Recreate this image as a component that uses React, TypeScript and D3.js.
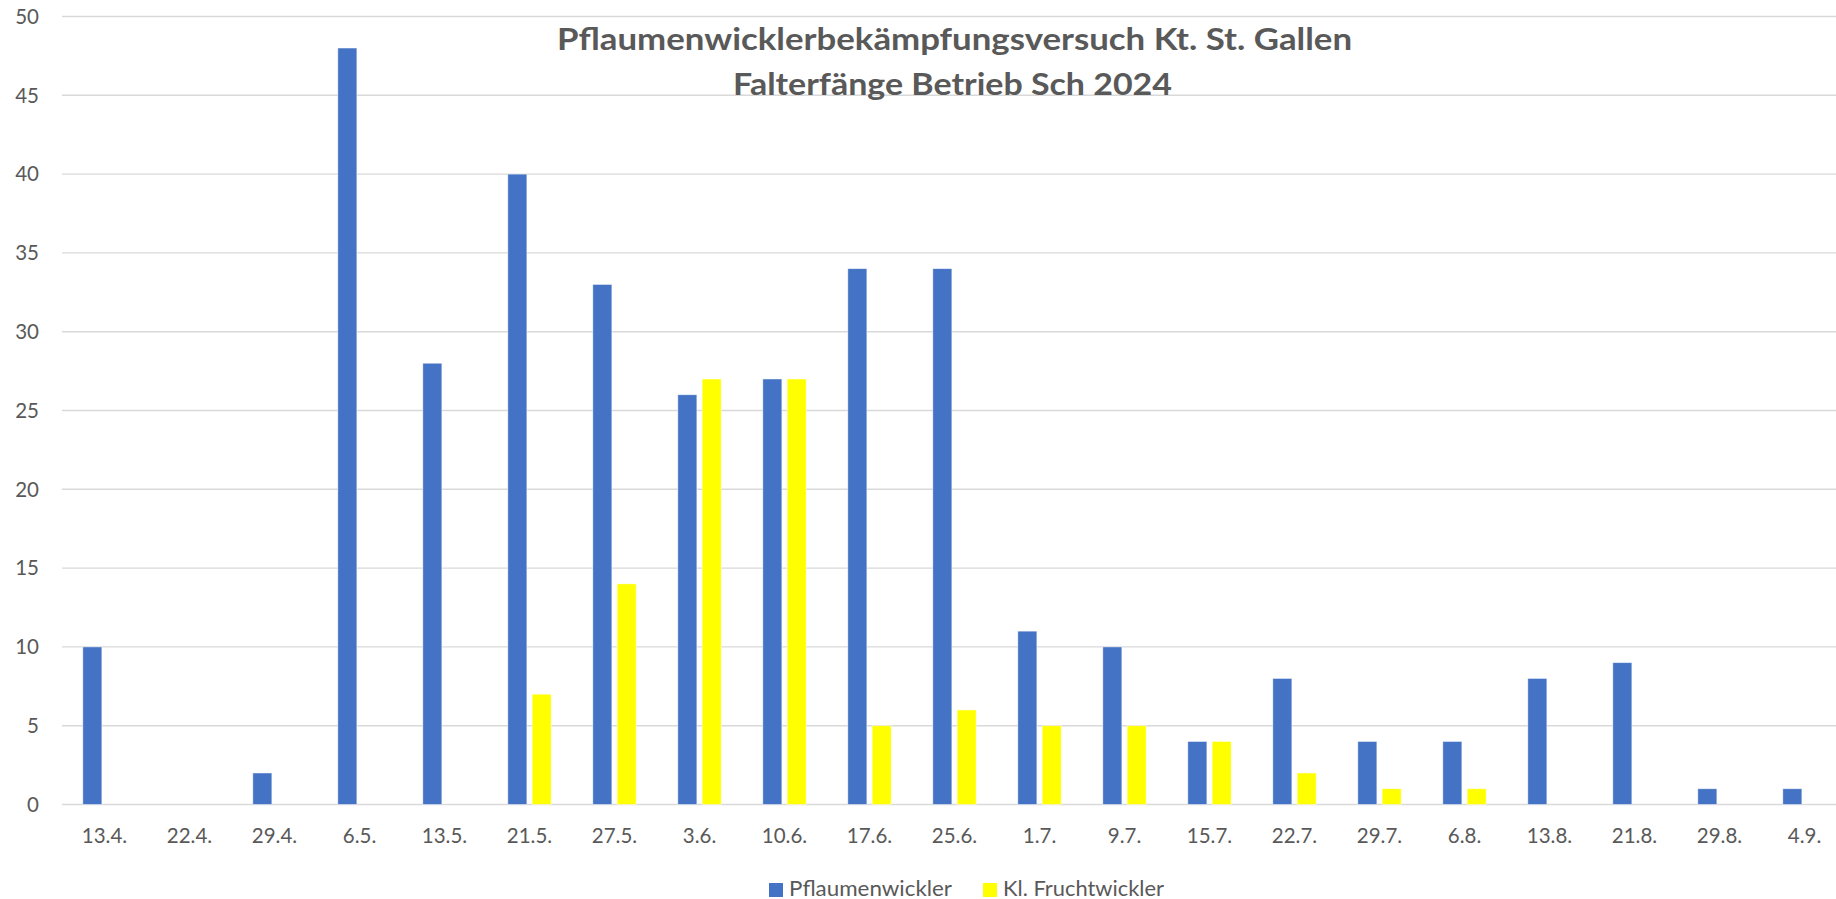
import React, { useEffect, useRef } from 'react'
import * as d3 from 'd3'

const dates = ['13.4.', '22.4.', '29.4.', '6.5.', '13.5.', '21.5.', '27.5.', '3.6.', '10.6.', '17.6.', '25.6.',
  '1.7.', '9.7.', '15.7.', '22.7.', '29.7.', '6.8.', '13.8.', '21.8.', '29.8.', '4.9.']
const pflaumenwickler = [10, 0, 2, 48, 28, 40, 33, 26, 27, 34, 34, 11, 10, 4, 8, 4, 4, 8, 9, 1, 1]
const fruchtwickler = [0, 0, 0, 0, 0, 7, 14, 27, 27, 5, 6, 5, 5, 4, 2, 1, 1, 0, 0, 0, 0]
const seriesNames = ['Pflaumenwickler', 'Kl. Fruchtwickler']
const seriesColors = ['#4472c4', '#ffff00']
const yTicks = [0, 5, 10, 15, 20, 25, 30, 35, 40, 45, 50]

const App = () => {
  const ref = useRef<SVGSVGElement | null>(null)

  useEffect(() => {
    const width = 1836
    const height = 899
    // the plot runs a little past the right edge of the picture, as in the original
    const margins = { top: 16.5, right: -11, bottom: 94.5, left: 62 }
    const boundedWidth = width - margins.left - margins.right
    const boundedHeight = height - margins.top - margins.bottom
    const font = 'Lato, "Open Sans", sans-serif'
    const textColor = '#595959'

    const svg = d3.select(ref.current)
    svg.selectAll('*').remove()

    svg.append('rect')
      .attr('width', width)
      .attr('height', height)
      .attr('fill', '#ffffff')

    const bounds = svg.append('g')
      .attr('transform', `translate(${margins.left},${margins.top})`)

    // Scales
    const xScale = d3.scaleBand()
      .domain(dates)
      .range([0, boundedWidth])

    const yScale = d3.scaleLinear()
      .domain([0, 50])
      .range([boundedHeight, 0])

    const bw = xScale.bandwidth()
    const barWidth = bw * 0.224
    const innerGap = bw * 0.062

    // Gridlines
    bounds.selectAll('line.grid')
      .data(yTicks)
      .join('line')
      .attr('class', 'grid')
      .attr('x1', 0)
      .attr('x2', boundedWidth)
      .attr('y1', d => yScale(d))
      .attr('y2', d => yScale(d))
      .attr('stroke', '#d9d9d9')
      .attr('stroke-width', 1.4)

    // Y tick labels
    bounds.selectAll('text.ytick')
      .data(yTicks)
      .join('text')
      .attr('class', 'ytick')
      .attr('x', -23)
      .attr('y', d => yScale(d))
      .attr('dy', '0.36em')
      .attr('text-anchor', 'end')
      .attr('fill', textColor)
      .style('font-family', font)
      .style('font-size', '20.5px')
      .text(d => d)

    // X tick labels
    bounds.selectAll('text.xtick')
      .data(dates)
      .join('text')
      .attr('class', 'xtick')
      .attr('x', d => (xScale(d) as number) + bw / 2)
      .attr('y', boundedHeight + 38.5)
      .attr('text-anchor', 'middle')
      .attr('fill', textColor)
      .style('font-family', font)
      .style('font-size', '20.5px')
      .text(d => d)

    // Bars
    const allSeries = [pflaumenwickler, fruchtwickler]
    allSeries.forEach((values, si) => {
      bounds.selectAll(`rect.s${si}`)
        .data(values.map((v, i) => ({ v, date: dates[i] })).filter(d => d.v > 0))
        .join('rect')
        .attr('class', `s${si}`)
        .attr('x', d => {
          const c = (xScale(d.date) as number) + bw / 2
          return si === 0 ? c - innerGap / 2 - barWidth : c + innerGap / 2
        })
        .attr('y', d => yScale(d.v))
        .attr('width', barWidth)
        .attr('height', d => boundedHeight - yScale(d.v))
        .attr('fill', seriesColors[si])
        .attr('stroke', '#ffffff')
        .attr('stroke-opacity', 0.6)
        .attr('stroke-width', 0.8)
    })

    // Title
    const title = svg.append('text')
      .attr('text-anchor', 'middle')
      .attr('fill', textColor)
      .style('font-family', font)
      .style('font-size', '30.5px')
      .style('font-weight', 700)
    title.append('tspan')
      .attr('x', 954.5)
      .attr('y', 50)
      .attr('textLength', 795)
      .attr('lengthAdjust', 'spacingAndGlyphs')
      .text('Pflaumenwicklerbekämpfungsversuch Kt. St. Gallen')
    title.append('tspan')
      .attr('x', 952.5)
      .attr('y', 95)
      .attr('textLength', 439)
      .attr('lengthAdjust', 'spacingAndGlyphs')
      .text('Falterfänge Betrieb Sch 2024')

    // Legend
    const legendItems = [
      { name: seriesNames[0], color: seriesColors[0], x: 769, textWidth: 163 },
      { name: seriesNames[1], color: seriesColors[1], x: 983, textWidth: 161 },
    ]
    const legend = svg.append('g')
    legendItems.forEach(item => {
      legend.append('rect')
        .attr('x', item.x)
        .attr('y', 883)
        .attr('width', 14)
        .attr('height', 14)
        .attr('fill', item.color)
      legend.append('text')
        .attr('x', item.x + 20)
        .attr('y', 896)
        .attr('textLength', item.textWidth)
        .attr('lengthAdjust', 'spacingAndGlyphs')
        .attr('fill', textColor)
        .style('font-family', font)
        .style('font-size', '20.5px')
        .text(item.name)
    })
  }, [])

  return (
    <svg ref={ref} width={1836} height={899}
      style={{ position: 'absolute', left: 0, top: 0, display: 'block' }} />
  )
}

export default App
